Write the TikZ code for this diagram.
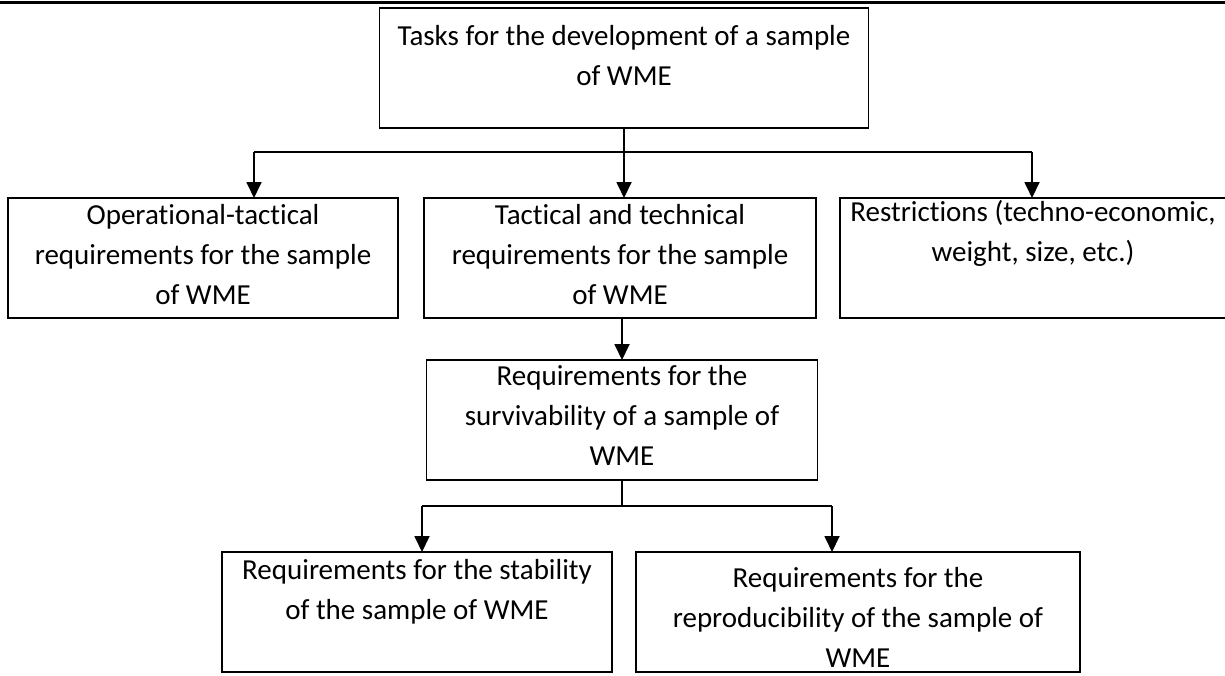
\documentclass[tikz,border=0pt]{standalone}
\usepackage{fontspec}
\setmainfont{Carlito}[Ligatures={NoCommon}]
\usetikzlibrary{arrows.meta}
\tikzset{
  box/.style={draw, line width=1.8pt, inner sep=0pt, outer sep=0pt, rectangle},
  conn/.style={line width=1.8pt},
  thinconn/.style={line width=1.2pt},
  arr/.style={line width=1.8pt, -{Triangle[width=15pt,length=16pt]}},
}
\newcommand{\boxtext}[4]{\parbox[c][#2pt][t]{#1pt}{\centering\rule{0pt}{#3pt}#4}}
\begin{document}
\begin{tikzpicture}[x=1pt,y=-1pt,font=\fontsize{29}{40}\selectfont]
\useasboundingbox (0,0) rectangle (1225,675);
\draw[line width=3pt] (0,2) -- (1225,2);
% boxes (centre, width, height)
\node[box] (top)  at (624,68)    {\boxtext{489}{120}{37}{Tasks for the development of a sample\\ of WME}};
\node[box] (opt)  at (203,258)   {\boxtext{390}{120}{26}{Operational-tactical\\ requirements for the sample\\ of WME}};
\node[box] (tt)   at (620,258)   {\boxtext{392}{120}{26}{Tactical and technical\\ requirements for the sample\\ of WME}};
\node[box] (res)  at (1033,258)  {\boxtext{386}{120}{23}{Restrictions (techno-economic,\\ weight, size, etc.)}};
\node[box] (surv) at (622,420)   {\boxtext{391}{120}{25}{Requirements for the\\ survivability of a sample of\\ WME}};
\node[box] (stab) at (417,612)   {\boxtext{390}{120}{27}{Requirements for the stability\\ of the sample of WME}};
\node[box] (repr) at (858,612)   {\boxtext{444}{120}{35}{Requirements for the\\ reproducibility of the sample of\\ WME}};
% junction coordinates
\coordinate (a1) at (254,152);
\coordinate (a3) at (1032,152);
\coordinate (b1) at (422,506);
\coordinate (b2) at (622,506);
\coordinate (b3) at (832,506);
% connectors
\draw[conn] (a1) -- (a3);
\draw[arr] (top.south) -- (top.south |- tt.north);
\draw[arr] (a1) -- (a1 |- opt.north);
\draw[arr] (a3) -- (a3 |- res.north);
\draw[arr] (tt.south -| surv.north) -- (surv.north);
\draw[thinconn] (surv.south) -- (b2);
\draw[conn] (b1) -- (b3);
\draw[arr] (b1) -- (b1 |- stab.north);
\draw[arr] (b3) -- (b3 |- repr.north);
\end{tikzpicture}
\end{document}
